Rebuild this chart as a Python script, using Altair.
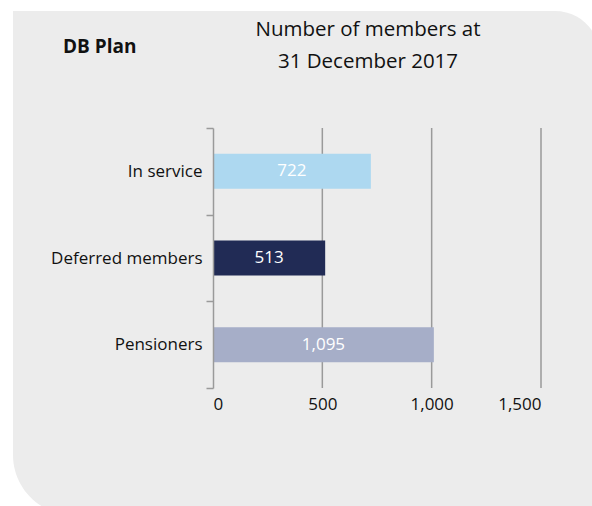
import altair as alt
import pandas as pd

categories = ["In service", "Deferred members", "Pensioners"]
bar_values = [722, 513, 1010]
bar_labels = ["722", "513", "1,095"]
bar_colors = ["#add8f0", "#212b55", "#a6aec8"]
x_ticks = [0, 500, 1000, 1500]
title_lines = ["Number of members at", "31 December 2017"]
plan_label = "DB Plan"

FONT = "Open Sans"
GRID = "#9a9a9a"

df = pd.DataFrame({"category": categories, "value": bar_values, "label": bar_labels})
grid_df = pd.DataFrame({"tick": x_ticks[1:]})

panel = alt.Chart(pd.DataFrame({"a": [0]})).mark_rect(
    color="#ececec", cornerRadiusTopRight=45, cornerRadiusBottomLeft=60
).encode(
    x=alt.value(-200), x2=alt.value(387), y=alt.value(-117), y2=alt.value(387)
)

xscale = alt.Scale(domain=[0, 1500], nice=False)
x_axis = alt.Axis(title=None, values=x_ticks, format=",d", grid=False,
                  domain=False, ticks=False, labelPadding=8,
                  labelFontSize=17, labelFont=FONT, labelColor="#111111", zindex=1)

grid = alt.Chart(grid_df).mark_rule(color=GRID, strokeWidth=1.5).encode(
    x=alt.X("tick:Q", scale=xscale, axis=x_axis),
    y=alt.value(0), y2=alt.value(260),
)

y_enc = alt.Y(
    "category:N", sort=categories,
    scale=alt.Scale(paddingInner=0, paddingOuter=0),
    axis=alt.Axis(title=None, domainColor=GRID, domainWidth=1.5, tickColor=GRID,
                  tickWidth=1.5, tickSize=7, tickBand="extent", labelFontSize=17,
                  labelFont=FONT, labelColor="#111111", labelPadding=4, zindex=1),
)

bars = alt.Chart(df).mark_bar(height=35).encode(
    y=y_enc, x=alt.X("value:Q", scale=xscale, axis=x_axis),
    color=alt.Color("category:N", scale=alt.Scale(domain=categories, range=bar_colors), legend=None),
)

labels = alt.Chart(df).transform_calculate(mid="datum.value / 2").mark_text(
    color="white", fontSize=17, font=FONT, align="center", baseline="middle"
).encode(
    y=alt.Y("category:N", sort=categories),
    x=alt.X("mid:Q"),
    text="label:N",
)

title_df = pd.DataFrame({"line": title_lines, "i": list(range(len(title_lines)))})
title = alt.Chart(title_df).transform_calculate(py="-98 + datum.i * 32").mark_text(
    fontSize=20.5, font=FONT, color="#111111", align="center", baseline="middle"
).encode(x=alt.value(155), y=alt.Y("py:Q", scale=None), text="line:N")

plan = alt.Chart(pd.DataFrame({"t": [plan_label]})).mark_text(
    fontSize=19, font=FONT, fontWeight="bold", color="#111111", align="left", baseline="middle"
).encode(x=alt.value(63 - 213), y=alt.value(47 - 128), text="t:N")

chart = alt.layer(panel, grid, bars, labels, title, plan).properties(
    width=328, height=260,
    padding={"left": 213, "top": 128, "right": 51, "bottom": 118},
    autosize=alt.AutoSizeParams(type="none"),
    background="white",
).configure_view(stroke=None)

chart.save("out.html", embed_options={"renderer": "svg", "actions": False})
